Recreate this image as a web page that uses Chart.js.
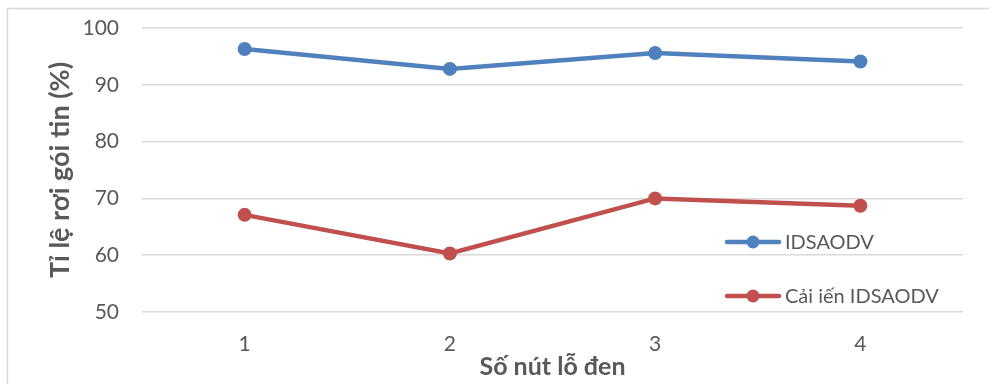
<!DOCTYPE html>
<html>
<head>
<meta charset="utf-8">
<script src="https://cdn.jsdelivr.net/npm/chart.js@4.4.0/dist/chart.umd.min.js"></script>
<style>
    html, body { margin: 0; padding: 0; background: #ffffff; }
    #wrap { width: 989px; height: 384px; position: relative; }
</style>
</head>
<body>
<div id="wrap"><canvas id="chart" width="989" height="384"></canvas></div>
<script>
// data
const categories = ['1', '2', '3', '4'];
const seriesNames = ['IDSAODV', 'Cải iến IDSAODV'];
const idsaodv = [96.3, 92.8, 95.6, 94.1];
const improved = [67.1, 60.3, 70.0, 68.7];
const yTicks = [50, 60, 70, 80, 90, 100];

const xTitle = 'Số nút lỗ đen';
const yTitle = 'Tỉ lệ rơi gói tin (%)';

const FONT = 'Lato, "Noto Sans", sans-serif';
const GREY_TEXT = '#595959';
const GRID = '#d9d9d9';

// frame of the chart object (only top and left edges are in view)
const framePlugin = {
    id: 'frame',
    beforeDraw(chart) {
        let ctx = chart.ctx;
        ctx.save();
        ctx.strokeStyle = GRID;
        ctx.lineWidth = 1.5;
        ctx.beginPath();
        ctx.moveTo(7.5, chart.height + 2);
        ctx.lineTo(7.5, 8.5);
        ctx.lineTo(chart.width + 2, 8.5);
        ctx.stroke();
        ctx.restore();
    }
};

// legend sits inside the plot, on the right
const insideLegend = {
    id: 'insideLegend',
    afterDraw(chart) {
        let ctx = chart.ctx;
        let rows = [242, 296];
        ctx.save();
        chart.data.datasets.forEach((ds, i) => {
            let y = rows[i];
            ctx.strokeStyle = ds.borderColor;
            ctx.lineWidth = 4.5;
            ctx.lineCap = 'round';
            ctx.beginPath();
            ctx.moveTo(727, y);
            ctx.lineTo(779, y);
            ctx.stroke();
            ctx.fillStyle = ds.backgroundColor;
            ctx.beginPath();
            ctx.arc(753, y, 6.5, 0, Math.PI * 2);
            ctx.fill();
            ctx.fillStyle = GREY_TEXT;
            ctx.font = '20px ' + FONT;
            ctx.textBaseline = 'middle';
            ctx.textAlign = 'left';
            ctx.fillText(ds.label, 785, y + 1);
        });
        ctx.restore();
    }
};

function makeDataset(label, data, color) {
    return {
        label: label,
        data: data,
        borderColor: color,
        backgroundColor: color,
        borderWidth: 4.5,
        pointRadius: 7,
        pointHoverRadius: 7,
        pointBorderWidth: 0,
        tension: 0,
        fill: false
    };
}

new Chart(document.getElementById('chart').getContext('2d'), {
    type: 'line',
    data: {
        labels: categories,
        datasets: [
            makeDataset(seriesNames[0], idsaodv, '#4f81bd'),
            makeDataset(seriesNames[1], improved, '#c0504d')
        ]
    },
    options: {
        responsive: false,
        animation: false,
        layout: { padding: { left: 0, right: 26, top: 28, bottom: 0 } },
        plugins: {
            legend: { display: false },
            tooltip: { enabled: false }
        },
        scales: {
            x: {
                offset: true,
                grid: { display: false, drawTicks: false },
                border: { display: false },
                ticks: { color: GREY_TEXT, font: { family: FONT, size: 21 }, padding: 20 },
                title: {
                    display: true, text: xTitle, color: GREY_TEXT,
                    font: { family: FONT, size: 25, weight: 'bold' },
                    padding: { top: 0, bottom: 2 }
                },
                afterFit(scale) { scale.height = 72; }
            },
            y: {
                min: 50,
                max: 100,
                afterBuildTicks(scale) { scale.ticks = yTicks.map(v => ({ value: v })); },
                // invisible tick marks give the gap between labels and plot
                grid: { color: GRID, lineWidth: 1.5, drawTicks: true, tickLength: 23, tickColor: 'rgba(0,0,0,0)' },
                border: { display: false },
                ticks: { color: GREY_TEXT, font: { family: FONT, size: 21 }, padding: 0 },
                title: {
                    display: true, text: yTitle, color: GREY_TEXT,
                    font: { family: FONT, size: 27, weight: 'bold' },
                    padding: { top: 44, bottom: 0 }
                },
                afterFit(scale) { scale.width = 142; }
            }
        }
    },
    plugins: [framePlugin, insideLegend]
});
</script>
</body>
</html>
